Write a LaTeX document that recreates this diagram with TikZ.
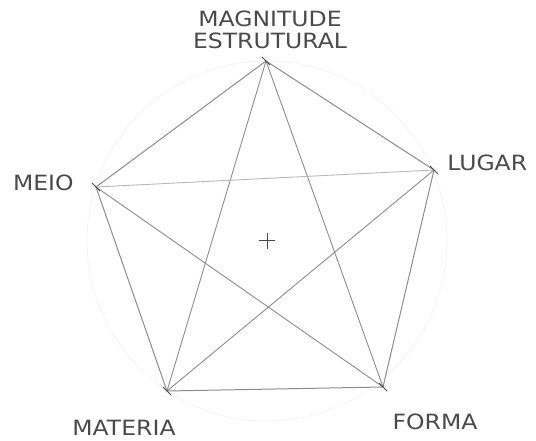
\documentclass[tikz,border=0pt]{standalone}
\usepackage{fontspec}
\setsansfont{DejaVu Sans}
\usetikzlibrary{positioning}
\definecolor{sketchLead}{HTML}{8C8C8C}
\definecolor{sketchFaint}{HTML}{B8B8B8}
\definecolor{sketchGhost}{HTML}{EDEDED}
\definecolor{sketchInk}{HTML}{4A4A4A}
\tikzset{
  every picture/.style={font=\sffamily\fontsize{21}{22}\selectfont, text=sketchInk},
  sketch side/.style={draw=sketchLead, line width=1pt, line cap=round},
  sketch star/.style={draw=sketchLead, line width=0.9pt, line cap=round},
  sketch guide/.style={draw=sketchGhost, line width=0.5pt},
  sketch label/.style={inner sep=1pt, align=center, xscale=1.12}
}
\begin{document}
\begin{tikzpicture}[x=1pt,y=-1pt]
  \useasboundingbox (0,0) rectangle (536,441);
  % vertices
  \coordinate (magnitude) at (266,61);
  \coordinate (lugar) at (434,170);
  \coordinate (forma) at (383,387);
  \coordinate (materia) at (167,391);
  \coordinate (meio) at (96,187);
  \coordinate (centro) at (267,241);
  % faint construction circle
  \draw[sketch guide] (centro) circle[radius=180];
  % pentagon
  \draw[sketch side] (magnitude) -- (lugar) -- (forma) -- (materia) -- (meio) -- cycle;
  % star
  \draw[sketch star] (magnitude) -- (materia);
  \draw[sketch star] (magnitude) -- (forma);
  \draw[sketch star] (meio) -- (forma);
  \draw[sketch star] (lugar) -- (materia);
  \draw[sketch star, draw=sketchFaint] (meio) -- (lugar);
  % small crosses at the points
  \foreach \v in {magnitude,lugar,forma,materia,meio}{
    \draw[sketchInk, line width=0.8pt] ([shift={(-4,-4)}]\v) -- ([shift={(4,4)}]\v);
  }
  \draw[sketchInk, line width=1pt] ([xshift=-8]centro) -- ([xshift=8]centro);
  \draw[sketchInk, line width=1pt] ([yshift=-8]centro) -- ([yshift=8]centro);
  % labels
  \node[sketch label] (magLabel) at (270,30) {MAGNITUDE\\ESTRUTURAL};
  \node[sketch label, anchor=west] (lugarLabel) at (446,163) {LUGAR};
  \node[sketch label, anchor=east] (meioLabel) at (75,183) {MEIO};
  \node[sketch label] (materiaLabel) at (124,428) {MATERIA};
  \node[sketch label] (formaLabel) at (435,422) {FORMA};
\end{tikzpicture}
\end{document}
